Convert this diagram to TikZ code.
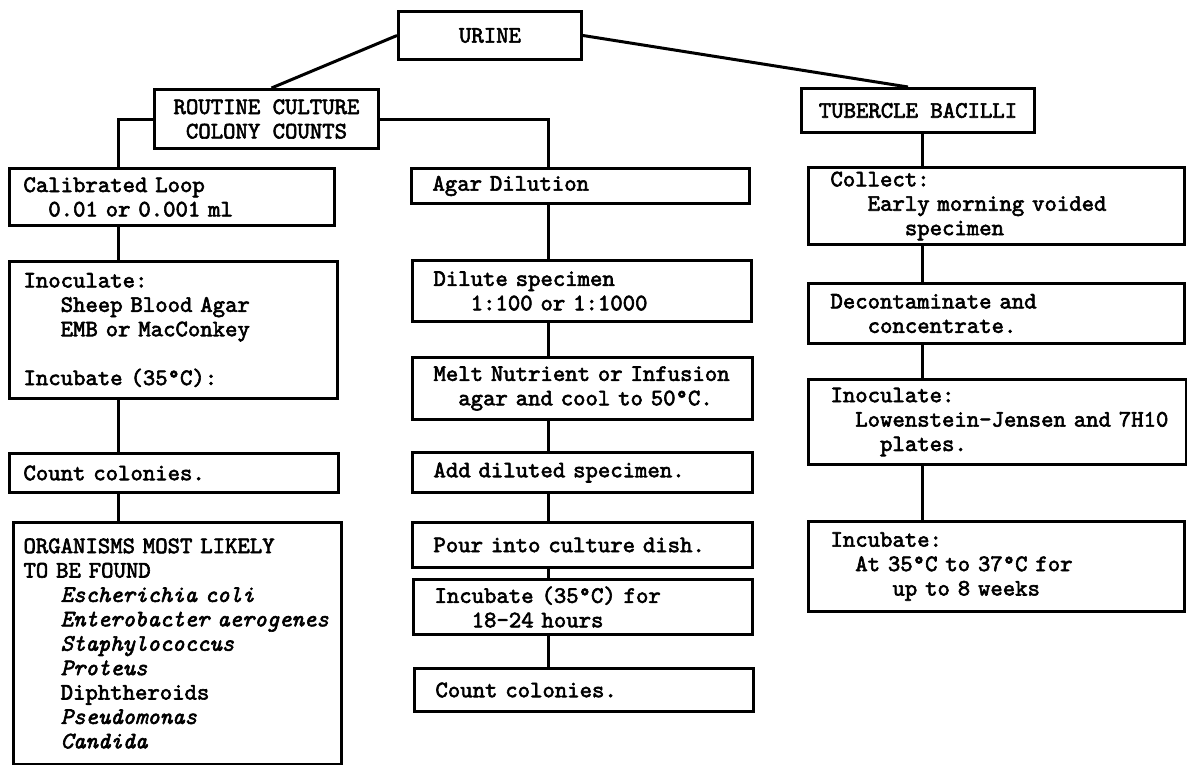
\documentclass[tikz,border=0pt]{standalone}
\usepackage{fontspec}
\usepackage{tikz}

\setmonofont{lmmono10-regular.otf}[ItalicFont=lmmono10-italic.otf, FakeBold=2.5]

\newlength{\cw}
\setlength{\cw}{12.4pt}
\newcommand{\indnt}[1]{\hspace*{#1\cw}}

\begin{document}
\begin{tikzpicture}[x=1pt, y=-1pt, line width=3pt,
                    every node/.style={font=\fontsize{23.6}{24.4}\selectfont\ttfamily},
                    headbox/.style={draw, anchor=north west, inner sep=0pt, align=center},
                    stepbox/.style={draw, anchor=north west, inner ysep=0pt, align=left},
                    lbox/.style={stepbox, inner xsep=14pt},
                    mbox/.style={stepbox, inner xsep=21pt},
                    rbox/.style={stepbox, inner xsep=22pt}]
    \useasboundingbox (0,0) rectangle (1187,764);

    % headings
    \node[headbox, minimum width=183pt, minimum height=48pt] (urine) at (397,10) {URINE};
    \node[headbox, minimum width=224pt, minimum height=59pt] (routine) at (153,88)
        {ROUTINE CULTURE\\COLONY COUNTS};
    \node[headbox, minimum width=233pt, minimum height=44pt] (tubercle) at (800,87)
        {TUBERCLE BACILLI};

    % left column
    \node[lbox, text width=297pt, minimum height=57pt] (loop) at (8,167)
        {Calibrated Loop\\
         \indnt{2}0.01 or 0.001 ml};
    \node[lbox, text width=300pt, minimum height=137pt] (inocl) at (8,260)
        {Inoculate:\\
         \indnt{3}Sheep Blood Agar\\
         \indnt{3}EMB or MacConkey\\[24.4pt]
         Incubate (35°C):};
    \node[lbox, text width=301pt, minimum height=39pt] (countl) at (8,452)
        {Count colonies.};
    \node[lbox, inner xsep=10pt, text width=308pt, minimum height=242pt] (organisms) at (12,521)
        {ORGANISMS MOST LIKELY\\
         TO BE FOUND\\
         \indnt{3}\textit{Escherichia coli}\\
         \indnt{3}\textit{Enterobacter~aerogenes}\\
         \indnt{3}\textit{Staphylococcus}\\
         \indnt{3}\textit{Proteus}\\
         \indnt{3}Diphtheroids\\
         \indnt{3}\textit{Pseudomonas}\\
         \indnt{3}\textit{Candida}};

    % middle column
    \node[mbox, text width=296pt, minimum height=35pt] (agar) at (410,167)
        {Agar Dilution};
    \node[mbox, text width=297pt, minimum height=61pt] (dilute) at (411,259)
        {Dilute specimen\\
         \indnt{3}1:100 or 1:1000};
    \node[mbox, text width=298pt, minimum height=62pt] (melt) at (411,356)
        {Melt~Nutrient~or~Infusion\\
         \indnt{2}agar~and~cool~to~50°C.};
    \node[mbox, text width=298pt, minimum height=40pt] (add) at (411,451)
        {Add diluted specimen.};
    \node[mbox, text width=298pt, minimum height=45pt] (pour) at (411,521)
        {Pour into culture dish.};
    \node[mbox, text width=297pt, minimum height=55pt] (incm) at (412,578)
        {Incubate (35°C) for\\
         \indnt{3}18-24 hours};
    \node[mbox, text width=297pt, minimum height=43pt] (countm) at (413,667)
        {Count colonies.};

    % right column
    \node[rbox, text width=332pt, minimum height=77pt] (collect) at (807,166)
        {Collect:\\
         \indnt{3}Early morning voided\\
         \indnt{6}specimen};
    \node[rbox, text width=332pt, minimum height=60pt] (decon) at (807,282)
        {Decontaminate and\\
         \indnt{3}concentrate.};
    \node[rbox, text width=334pt, minimum height=85pt] (inocr) at (807,378)
        {Inoculate:\\
         \indnt{2}Lowenstein\mbox{-}Jensen~and~7H10\\
         \indnt{4}plates.};
    \node[rbox, text width=332pt, minimum height=90pt] (incr) at (807,520)
        {Incubate:\\
         \indnt{2}At 35°C to 37°C for\\
         \indnt{5}up to 8 weeks};

    % connectors
    \coordinate (lspine) at (118,0);
    \coordinate (mspine) at (548,0);
    \coordinate (rspine) at (922,0);

    \draw (urine.west) -- ([xshift=5pt]routine.north);
    \draw (urine.east) -- ([xshift=-10pt]tubercle.north);
    \draw (routine.west) -| (lspine |- loop.north);
    \draw (routine.east) -| (mspine |- agar.north);

    \foreach \a/\b in {loop/inocl, inocl/countl, countl/organisms}
        \draw (lspine |- \a.south) -- (lspine |- \b.north);
    \foreach \a/\b in {agar/dilute, dilute/melt, melt/add, add/pour, pour/incm, incm/countm}
        \draw (mspine |- \a.south) -- (mspine |- \b.north);
    \foreach \a/\b in {tubercle/collect, collect/decon, decon/inocr, inocr/incr}
        \draw (rspine |- \a.south) -- (rspine |- \b.north);
\end{tikzpicture}
\end{document}
